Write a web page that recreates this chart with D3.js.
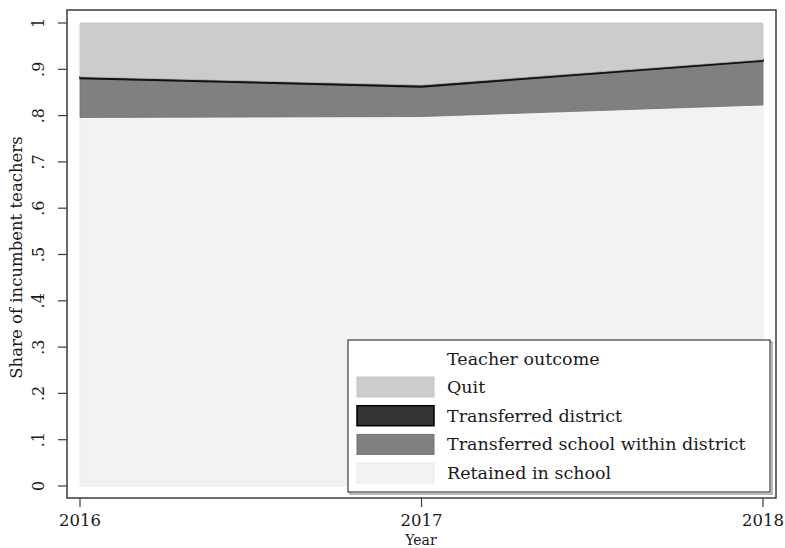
<!DOCTYPE html>
<html>
<head>
<meta charset="utf-8">
<script src="https://cdn.jsdelivr.net/npm/d3@7"></script>
<style>
  body { margin: 0; background: #fff; }
  text { font-family: "DejaVu Serif", serif; fill: #1a1a1a; }
</style>
</head>
<body>
<div id="chart"></div>
<script>
// data (shares stacked from the bottom)
var years = [2016, 2017, 2018];
var retained = [0.796, 0.798, 0.823];
var transferredSchool = [0.084, 0.064, 0.095];
var transferredDistrict = [0.004, 0.004, 0.003];
var quit = [0.116, 0.134, 0.079];
var yTicks = [0, .1, .2, .3, .4, .5, .6, .7, .8, .9, 1];
var yTickLabels = ["0", ".1", ".2", ".3", ".4", ".5", ".6", ".7", ".8", ".9", "1"];

var series = [
  {name: "Retained in school", values: retained, fill: "#f2f2f2", stroke: "#eaeaea"},
  {name: "Transferred school within district", values: transferredSchool, fill: "#808080", stroke: "#707070"},
  {name: "Transferred district", values: transferredDistrict, fill: "#333333", stroke: "#111111"},
  {name: "Quit", values: quit, fill: "#cccccc", stroke: "#c4c4c4"}
];
var legendOrder = ["Quit", "Transferred district", "Transferred school within district", "Retained in school"];

var width = 785, height = 548;
var svg = d3.select("#chart").append("svg")
  .attr("width", width)
  .attr("height", height);

// plot region frame
var frame = {left: 67, top: 10, right: 776, bottom: 498};

var x = d3.scaleLinear().domain([2016, 2018]).range([80, 763]);
var y = d3.scaleLinear().domain([0, 1]).range([486, 23]);

// build stacked table
var table = years.map(function(yr, i) {
  var row = {year: yr};
  series.forEach(function(s) { row[s.name] = s.values[i]; });
  return row;
});
var stack = d3.stack().keys(series.map(function(s) { return s.name; }));
var layers = stack(table);

var area = d3.area()
  .x(function(d) { return x(d.data.year); })
  .y0(function(d) { return y(d[0]); })
  .y1(function(d) { return y(d[1]); });

svg.selectAll("path.layer")
  .data(layers)
  .enter()
  .append("path")
    .attr("class", "layer")
    .attr("d", area)
    .attr("fill", function(d, i) { return series[i].fill; })
    .attr("stroke", function(d, i) { return series[i].stroke; })
    .attr("stroke-width", function(d, i) { return series[i].name == "Transferred district" ? 1.5 : 0.8; });

// frame
svg.append("rect")
  .attr("x", frame.left)
  .attr("y", frame.top)
  .attr("width", frame.right - frame.left)
  .attr("height", frame.bottom - frame.top)
  .attr("fill", "none")
  .attr("stroke", "#3c3c3c")
  .attr("stroke-width", 1.5);

// y axis ticks, labels rotated like stata
svg.selectAll("line.ytick")
  .data(yTicks)
  .enter()
  .append("line")
    .attr("x1", frame.left - 9)
    .attr("x2", frame.left)
    .attr("y1", function(d) { return y(d); })
    .attr("y2", function(d) { return y(d); })
    .attr("stroke", "#3c3c3c")
    .attr("stroke-width", 1.2);

svg.selectAll("text.ylab")
  .data(yTicks)
  .enter()
  .append("text")
    .attr("transform", function(d) { return "translate(44," + y(d) + ") rotate(-90)"; })
    .attr("text-anchor", "middle")
    .style("font-size", "16px")
    .text(function(d, i) { return yTickLabels[i]; });

// x axis ticks
svg.selectAll("line.xtick")
  .data(years)
  .enter()
  .append("line")
    .attr("x1", function(d) { return x(d); })
    .attr("x2", function(d) { return x(d); })
    .attr("y1", frame.bottom)
    .attr("y2", frame.bottom + 9)
    .attr("stroke", "#3c3c3c")
    .attr("stroke-width", 1.2);

svg.selectAll("text.xlab")
  .data(years)
  .enter()
  .append("text")
    .attr("x", function(d) { return x(d); })
    .attr("y", 526)
    .attr("text-anchor", "middle")
    .style("font-size", "16.5px")
    .text(function(d) { return d; });

// axis titles
svg.append("text")
  .attr("x", 421)
  .attr("y", 544.5)
  .attr("text-anchor", "middle")
  .style("font-size", "14px")
  .text("Year");

svg.append("text")
  .attr("transform", "translate(22," + (y(0.5) + 3) + ") rotate(-90)")
  .attr("text-anchor", "middle")
  .style("font-size", "16.5px")
  .text("Share of incumbent teachers");

// legend with shadow
var lg = svg.append("g").attr("transform", "translate(348,340)");
lg.append("rect")
  .attr("x", 2).attr("y", 2)
  .attr("width", 422).attr("height", 152)
  .attr("fill", "#fff")
  .attr("stroke", "#777").attr("stroke-width", 1);
lg.append("rect")
  .attr("width", 422).attr("height", 152)
  .attr("fill", "#fff")
  .attr("stroke", "#3c3c3c").attr("stroke-width", 1.2);

lg.append("text")
  .attr("x", 99).attr("y", 25)
  .style("font-size", "17.5px")
  .text("Teacher outcome");

var items = lg.selectAll("g.item")
  .data(legendOrder)
  .enter()
  .append("g")
    .attr("class", "item")
    .attr("transform", function(d, i) { return "translate(0," + (37 + i * 28.7) + ")"; });

items.append("rect")
  .attr("x", 9).attr("width", 77).attr("height", 20)
  .attr("fill", function(d) { return series.find(function(s) { return s.name == d; }).fill; })
  .attr("stroke", function(d) { return d == "Transferred district" ? "#000" : series.find(function(s) { return s.name == d; }).stroke; })
  .attr("stroke-width", function(d) { return d == "Transferred district" ? 1.5 : 1; });

items.append("text")
  .attr("x", 99).attr("y", 16)
  .style("font-size", "17.5px")
  .text(function(d) { return d; });
</script>
</body>
</html>
